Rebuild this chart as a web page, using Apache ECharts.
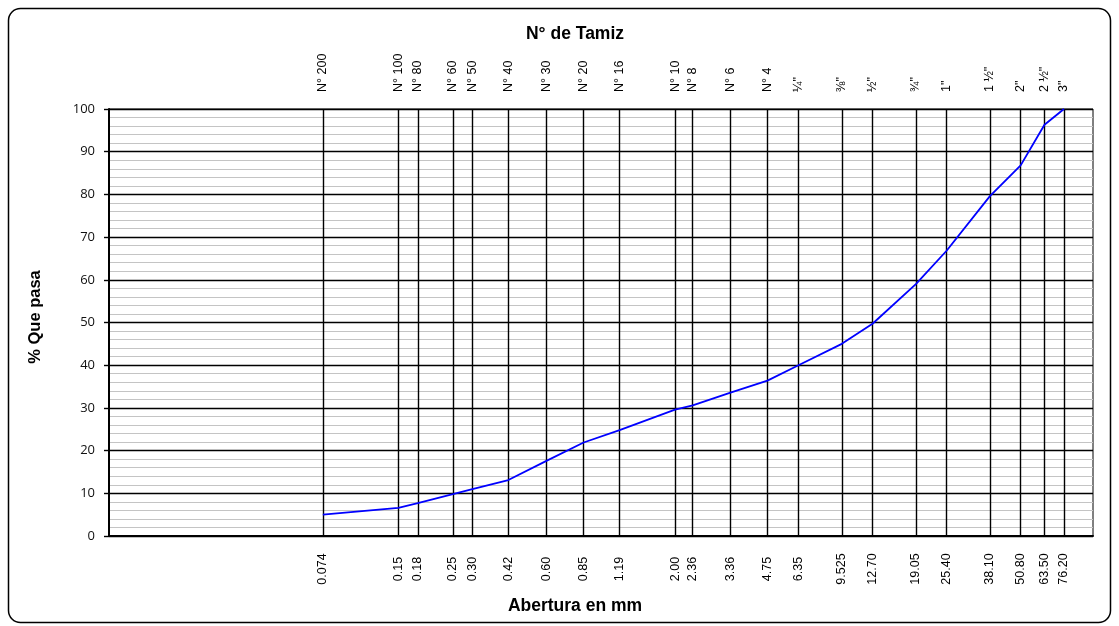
<!DOCTYPE html>
<html>
<head>
<meta charset="utf-8">
<script src="https://cdn.jsdelivr.net/npm/echarts@6/dist/echarts.min.js"></script>
<style>
  html, body { margin: 0; padding: 0; background: #fff; }
  #chart { width: 1119px; height: 626px; }
</style>
</head>
<body>
<div id="chart"></div>
<script>
// Sieve openings (mm), coarse to fine
const openings = [76.20, 63.50, 50.80, 38.10, 25.40, 19.05, 12.70, 9.525, 6.35, 4.75, 3.36, 2.36, 2.00, 1.19, 0.85, 0.60, 0.42, 0.30, 0.25, 0.18, 0.15, 0.074];
// Printed opening labels
const openingLabels = ['76.20', '63.50', '50.80', '38.10', '25.40', '19.05', '12.70', '9.525', '6.35', '4.75', '3.36', '2.36', '2.00', '1.19', '0.85', '0.60', '0.42', '0.30', '0.25', '0.18', '0.15', '0.074'];
// Sieve designations
const sieveNames = ['3"', '2 ½"', '2"', '1 ½"', '1"', '¾"', '½"', '⅜"', '¼"', 'N° 4', 'N° 6', 'N° 8', 'N° 10', 'N° 16', 'N° 20', 'N° 30', 'N° 40', 'N° 50', 'N° 60', 'N° 80', 'N° 100', 'N° 200'];
// Cumulative percent passing
const percentPassing = [100, 96.3, 86.8, 79.6, 66.8, 59.0, 49.7, 45.0, 40.0, 36.4, 33.6, 30.6, 29.6, 24.8, 21.9, 17.6, 13.1, 11.0, 9.8, 7.7, 6.6, 5.0];

function indexOfOpening(v) {
  let best = 0, bestErr = Infinity;
  for (let i = 0; i < openings.length; i++) {
    const err = Math.abs(Math.log(openings[i]) - Math.log(v));
    if (err < bestErr) { bestErr = err; best = i; }
  }
  return best;
}

const labelFont = 'Liberation Sans, Arial, sans-serif';
const chart = echarts.init(document.getElementById('chart'));

chart.setOption({
  animation: false,
  backgroundColor: '#fff',
  grid: {
    left: 109, right: 26, top: 109, bottom: 90,
    show: true, borderColor: '#000', borderWidth: 1, backgroundColor: 'transparent'
  },
  graphic: [
    {
      type: 'rect', z: 0,
      shape: { x: 8.5, y: 8.5, width: 1102, height: 614, r: 12 },
      style: { fill: 'none', stroke: '#000', lineWidth: 1.5 }
    },
    {
      type: 'text', z: 10,
      x: 575, y: 34,
      style: { text: 'N° de Tamiz', font: 'bold 17.5px ' + labelFont, fill: '#000', align: 'center', verticalAlign: 'middle' }
    },
    {
      type: 'text', z: 10,
      x: 575, y: 606,
      style: { text: 'Abertura en mm', font: 'bold 17.5px ' + labelFont, fill: '#000', align: 'center', verticalAlign: 'middle' }
    },
    {
      type: 'text', z: 10,
      x: 35, y: 317, rotation: Math.PI / 2,
      style: { text: '% Que pasa', font: 'bold 16.5px ' + labelFont, fill: '#000', align: 'center', verticalAlign: 'middle' }
    }
  ],
  xAxis: [
    {
      type: 'log', logBase: 10, min: 0.01, max: 100, position: 'bottom',
      axisLine: { show: true, onZero: false, lineStyle: { color: '#000', width: 2 } },
      axisTick: { show: false, customValues: openings },
      splitLine: { show: true, lineStyle: { color: '#000', width: 1.4 } },
      minorSplitLine: { show: false },
      axisLabel: {
        customValues: openings,
        rotate: 90, margin: 33, align: 'center', verticalAlign: 'middle',
        fontFamily: labelFont, fontSize: 12.5, color: '#000',
        formatter: v => openingLabels[indexOfOpening(v)]
      }
    },
    {
      type: 'log', logBase: 10, min: 0.01, max: 100, position: 'top',
      axisLine: { show: false },
      axisTick: { show: false, customValues: openings },
      splitLine: { show: false },
      axisLabel: {
        customValues: openings,
        rotate: 90, margin: 17, align: 'left', verticalAlign: 'middle',
        fontFamily: labelFont, fontSize: 12.5, color: '#000',
        formatter: v => sieveNames[indexOfOpening(v)]
      }
    }
  ],
  yAxis: {
    type: 'value', min: 0, max: 100, interval: 10,
    axisLine: { show: true, lineStyle: { color: '#000', width: 2 } },
    axisTick: { show: true, inside: false, length: 5, lineStyle: { color: '#000', width: 1.4 } },
    axisLabel: { margin: 14, fontFamily: 'Open Sans, sans-serif', fontSize: 13, color: '#111' },
    splitLine: { show: true, lineStyle: { color: '#000', width: 1.4 } },
    minorTick: { show: false, splitNumber: 5 },
    minorSplitLine: { show: true, lineStyle: { color: '#c4c4c4', width: 1 } }
  },
  series: [
    {
      type: 'line', xAxisIndex: 0,
      data: openings.map((d, i) => [d, percentPassing[i]]),
      symbol: 'none',
      lineStyle: { color: '#0000ff', width: 1.8 },
      z: 5
    }
  ]
});
</script>
</body>
</html>
